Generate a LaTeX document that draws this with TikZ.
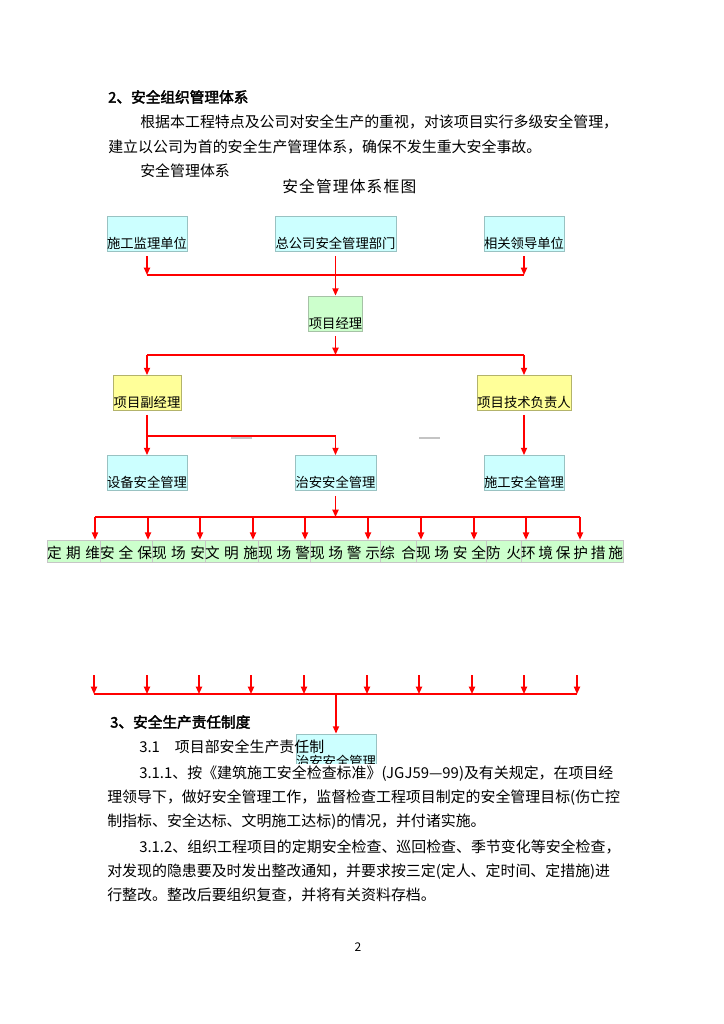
\documentclass[tikz,border=0pt]{standalone}
\usepackage{fontspec}
\setmainfont{Noto Sans CJK SC}
\newfontfamily\cjkb{Noto Sans CJK SC}[FakeBold=2.5]
\usetikzlibrary{arrows.meta}
\XeTeXlinebreaklocale "zh"
\XeTeXlinebreakskip=0pt plus 2pt minus 0.5pt
\definecolor{cyanfill}{HTML}{CCFFFF}
\definecolor{cyanedge}{HTML}{99C2C2}
\definecolor{greenfill}{HTML}{CCFFCC}
\definecolor{greenedge}{HTML}{A6C2A6}
\definecolor{yelfill}{HTML}{FFFF99}
\definecolor{yeledge}{HTML}{B3B36B}
\definecolor{redline}{HTML}{FF0000}
\definecolor{markgray}{HTML}{C4C4C4}
\tikzset{
  orgbox/.style={line width=0.6pt, inner sep=0pt, text height=24pt, text depth=2.25pt, font=\fontsize{10}{12}\selectfont},
  cyanbox/.style={orgbox, draw=cyanedge, fill=cyanfill},
  greenbox/.style={orgbox, draw=greenedge, fill=greenfill},
  yelbox/.style={orgbox, draw=yeledge, fill=yelfill},
  conn/.style={draw=redline, line width=1.1pt},
  arr/.style={conn, -{Triangle[width=4.6pt,length=5.5pt]}},
  graymark/.style={draw=markgray, line width=0.8pt},
  cell/.style={draw=gray!45, line width=0.4pt, fill=greenfill, inner sep=0pt, text height=13.5pt, text depth=3pt, font=\fontsize{11}{12}\selectfont},
  body/.style={anchor=base west, inner sep=0pt, font=\fontsize{11.2}{13}\selectfont},
  head/.style={anchor=base west, inner sep=0pt, font=\cjkb\fontsize{11}{13}\selectfont},
}
\begin{document}
\begin{tikzpicture}[x=0.75pt,y=-0.75pt]
\useasboundingbox[fill=white] (0,0) rectangle (724,1024);

% ---- top text ----
\node[head] (h2) at (108,102.6) {2、安全组织管理体系};
\node[body] (p1) at (140,127.8) {\makebox[364.5pt][s]{根据本工程特点及公司对安全生产的重视，对该项目实行多级安全管理，}};
\node[body] (p2) at (108,152.8) {\makebox[332pt][s]{建立以公司为首的安全生产管理体系，确保不发生重大安全事故。}};
\node[body] (p3) at (140,176.8) {安全管理体系};
\node[anchor=base west, inner sep=0pt, font=\fontsize{11.8}{13}\selectfont] (cap) at (282,192) {\makebox[100.5pt][s]{安\hfill 全\hfill 管\hfill 理\hfill 体\hfill 系\hfill 框\hfill 图}};

% ---- boxes ----
\node[cyanbox, minimum width=60pt] (jl) at (147,233.5) {施工监理单位};
\node[cyanbox, minimum width=90.75pt] (zgs) at (335.5,233.5) {总公司安全管理部门};
\node[cyanbox, minimum width=60pt] (xg) at (524,233.5) {相关领导单位};
\node[greenbox, minimum width=39.75pt] (pm) at (335.5,313.5) {项目经理};
\node[yelbox, minimum width=51pt] (vpm) at (147,393) {项目副经理};
\node[yelbox, minimum width=70.5pt] (tech) at (524,393) {项目技术负责人};
\node[cyanbox, minimum width=60pt] (sb) at (147,473) {设备安全管理};
\node[cyanbox, minimum width=60.75pt] (za) at (335.5,473) {治安安全管理};
\node[cyanbox, minimum width=60pt] (sg) at (524,473) {施工安全管理};

% ---- level 1 connectors ----
\coordinate (b1l) at (147,275);
\coordinate (b1r) at (524,275);
\draw[arr, shorten <=3.75pt] (jl.south) -- (b1l);
\draw[arr, shorten <=3.75pt] (xg.south) -- (b1r);
\draw[conn] (b1l) -- (b1r);
\draw[arr, shorten <=3.75pt] (zgs.south) -- (pm.north);

% ---- level 2 ----
\coordinate (b2) at (335.5,355);
\coordinate (b2l) at (147,355);
\coordinate (b2r) at (524,355);
\draw[arr, shorten <=3.75pt] (pm.south) -- (b2);
\draw[conn] (b2l) -- (b2r);
\draw[arr] (b2l) -- (vpm.north);
\draw[arr] (b2r) -- (tech.north);

% ---- level 3 ----
\coordinate (b3l) at (147,436);
\draw[arr, shorten <=3pt] (vpm.south) -- (sb.north);
\draw[arr] (b3l) -| (za.north);
\draw[arr, shorten <=3pt] (tech.south) -- (sg.north);
\draw[graymark] (231,438) -- (252,438);
\draw[graymark] (419,438) -- (440,438);

% ---- level 4 cells ----
\node[cell, minimum width=39.75pt] (c1) at (73.5,551) {\makebox[39.75pt][s]{定\hfill 期\hfill 维}};
\node[cell, minimum width=39pt] (c2) at (126,551) {\makebox[39pt][s]{安\hfill 全\hfill 保}};
\node[cell, minimum width=39.75pt] (c3) at (178.5,551) {\makebox[39.75pt][s]{现\hfill 场\hfill 安}};
\node[cell, minimum width=39.75pt] (c4) at (231.5,551) {\makebox[39.75pt][s]{文\hfill 明\hfill 施}};
\node[cell, minimum width=39pt] (c5) at (284,551) {\makebox[39pt][s]{现\hfill 场\hfill 警}};
\node[cell, minimum width=52.5pt] (c6) at (345,551) {\makebox[52.5pt][s]{现\hfill 场\hfill 警\hfill 示}};
\node[cell, minimum width=27pt] (c7) at (398,551) {\makebox[27pt][s]{综\hfill 合}};
\node[cell, minimum width=52.5pt] (c8) at (451,551) {\makebox[52.5pt][s]{现\hfill 场\hfill 安\hfill 全}};
\node[cell, minimum width=26.25pt] (c9) at (503.5,551) {\makebox[26.25pt][s]{防\hfill 火}};
\node[cell, minimum width=76.5pt] (c10) at (572,551) {\makebox[76.5pt][s]{环\hfill 境\hfill 保\hfill 护\hfill 措\hfill 施}};

\coordinate (b4) at (335.5,517);
\draw[arr, shorten <=3.75pt] (za.south) -- (b4);
\coordinate (b4l) at (95,517);
\coordinate (b4r) at (580,517);
\draw[conn] (b4l) -- (b4r);
\foreach \x/\c [count=\i] in {95/c1,148/c2,200/c3,253/c4,305/c5,368/c6,421/c8,474/c8,526/c10,580/c10}{
  \coordinate (t\i) at (\x,517);
  \draw[arr] (t\i) -- (t\i |- \c.north);
}

% ---- lower repeated row ----
\foreach \x [count=\i] in {94,147,199,251,304,367,419,472,524,577}{
  \coordinate (u\i) at (\x,675);
  \coordinate (v\i) at (\x,694);
  \draw[arr] (u\i) -- (v\i);
}
\draw[conn] (v1) -- (v10);
\node[cyanbox, minimum width=60pt] (za2) at (336,751.5) {治安安全管理};
\coordinate (b5) at (336,694);
\draw[arr] (b5) -- (za2.north);

% ---- lower text ----
\node[head] (h3) at (110,727.6) {3、安全生产责任制度};
\node[body] (s31) at (139,752.8) {3.1　项目部安全生产责任制};
\node[body, fill=white, text height=10.8pt, text depth=3pt] (l1) at (139,778.8) {\makebox[356.25pt][s]{3.1.1、按《建筑施工安全检查标准》(JGJ59—99)及有关规定，在项目经}};
\node[body] (l2) at (107,802.8) {\makebox[380pt][s]{理领导下，做好安全管理工作，监督检查工程项目制定的安全管理目标(伤亡控}};
\node[body] (l3) at (107,826.8) {制指标、安全达标、文明施工达标)的情况，并付诸实施。};
\node[body] (l4) at (139,852.8) {\makebox[356.25pt][s]{3.1.2、组织工程项目的定期安全检查、巡回检查、季节变化等安全检查，}};
\node[body] (l5) at (107,876.8) {\makebox[380pt][s]{对发现的隐患要及时发出整改通知，并要求按三定(定人、定时间、定措施)进}};
\node[body] (l6) at (107,900.8) {行整改。整改后要组织复查，并将有关资料存档。};

\node[anchor=base, inner sep=0pt, font=\fontsize{9}{10}\selectfont] (pg) at (358,951) {2};
\end{tikzpicture}
\end{document}
